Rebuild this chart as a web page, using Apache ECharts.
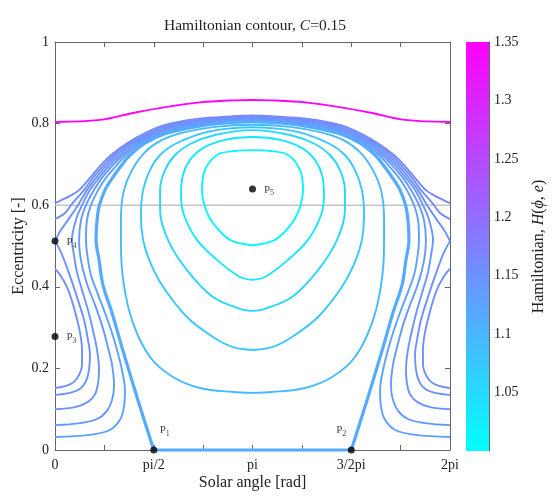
<!DOCTYPE html>
<html>
<head>
<meta charset="utf-8">
<script src="https://cdn.jsdelivr.net/npm/echarts@6/dist/echarts.min.js"></script>
<style>
  html, body { margin: 0; background: #fff; }
  #main { width: 558px; height: 497px; }
</style>
</head>
<body>
<div id="main"></div>
<script>
// x values are solar angle in units of pi, y values eccentricity
const xTicks = { 0: '0', 0.5: 'pi/2', 1: 'pi', 1.5: '3/2pi', 2: '2pi' };

// closed loops around P5
const loop1 = [[1.0,0.502],[0.886,0.515],[0.800,0.556],[0.759,0.596],[0.744,0.637],[0.759,0.686],[0.820,0.723],[0.911,0.733],[1.0,0.735],[1.089,0.733],[1.180,0.723],[1.241,0.686],[1.256,0.637],[1.241,0.596],[1.200,0.556],[1.114,0.515],[1.0,0.502]];
const loop2 = [[1.0,0.417],[0.937,0.424],[0.820,0.466],[0.719,0.515],[0.653,0.576],[0.638,0.625],[0.648,0.674],[0.684,0.711],[0.749,0.740],[0.861,0.760],[1.0,0.767],[1.139,0.760],[1.251,0.740],[1.316,0.711],[1.352,0.674],[1.362,0.625],[1.347,0.576],[1.281,0.515],[1.180,0.466],[1.063,0.424],[1.0,0.417]];
const loop3 = [[1.0,0.341],[0.937,0.346],[0.800,0.375],[0.668,0.441],[0.572,0.515],[0.532,0.588],[0.532,0.637],[0.557,0.686],[0.608,0.723],[0.684,0.750],[0.810,0.772],[1.0,0.784],[1.190,0.772],[1.316,0.750],[1.392,0.723],[1.443,0.686],[1.468,0.637],[1.468,0.588],[1.428,0.515],[1.332,0.441],[1.200,0.375],[1.063,0.346],[1.0,0.341]];
const loop4 = [[1.0,0.245],[0.901,0.252],[0.800,0.277],[0.668,0.326],[0.547,0.400],[0.481,0.461],[0.446,0.515],[0.435,0.576],[0.446,0.637],[0.481,0.686],[0.532,0.723],[0.608,0.750],[0.734,0.775],[0.861,0.787],[1.0,0.791],[1.139,0.787],[1.266,0.775],[1.392,0.750],[1.468,0.723],[1.519,0.686],[1.554,0.637],[1.565,0.576],[1.554,0.515],[1.519,0.461],[1.453,0.400],[1.332,0.326],[1.200,0.277],[1.099,0.252],[1.0,0.245]];
const loop5 = [[1.0,0.140],[0.901,0.142],[0.734,0.152],[0.597,0.179],[0.481,0.228],[0.395,0.311],[0.349,0.404],[0.334,0.502],[0.334,0.576],[0.349,0.637],[0.390,0.686],[0.456,0.730],[0.542,0.760],[0.658,0.779],[0.810,0.792],[1.0,0.797],[1.190,0.792],[1.342,0.779],[1.458,0.760],[1.544,0.730],[1.610,0.686],[1.651,0.637],[1.666,0.576],[1.666,0.502],[1.651,0.404],[1.605,0.311],[1.519,0.228],[1.403,0.179],[1.266,0.152],[1.099,0.142],[1.0,0.140]];

// separatrix from P1 over the top to P2, and the e=0 segment between them
const sepArc = [[0.5,0],[0.415,0.130],[0.339,0.252],[0.289,0.336],[0.243,0.404],[0.223,0.466],[0.208,0.515],[0.213,0.564],[0.225,0.600],[0.253,0.637],[0.291,0.667],[0.334,0.696],[0.380,0.723],[0.456,0.752],[0.557,0.775],[0.709,0.792],[0.846,0.801],[1.0,0.805],[1.154,0.801],[1.291,0.792],[1.443,0.775],[1.544,0.752],[1.620,0.723],[1.666,0.696],[1.709,0.667],[1.747,0.637],[1.775,0.600],[1.787,0.564],[1.792,0.515],[1.777,0.466],[1.757,0.404],[1.711,0.336],[1.661,0.252],[1.585,0.130],[1.5,0]];
const sepBase = [[0.5,0],[1.5,0]];

// open curves from the left edge over the top to the right edge
const curveE = [[0,0.032],[0.177,0.037],[0.278,0.049],[0.329,0.074],[0.349,0.105],[0.354,0.147],[0.339,0.196],[0.314,0.245],[0.284,0.294],[0.248,0.343],[0.213,0.387],[0.182,0.429],[0.167,0.466],[0.157,0.515],[0.162,0.564],[0.182,0.600],[0.218,0.637],[0.258,0.667],[0.309,0.696],[0.359,0.723],[0.435,0.752],[0.557,0.778],[0.709,0.795],[0.846,0.804],[1.0,0.808],[1.154,0.804],[1.291,0.795],[1.443,0.778],[1.565,0.752],[1.641,0.723],[1.691,0.696],[1.742,0.667],[1.782,0.637],[1.818,0.600],[1.838,0.564],[1.843,0.515],[1.833,0.466],[1.818,0.429],[1.787,0.387],[1.752,0.343],[1.716,0.294],[1.686,0.245],[1.661,0.196],[1.646,0.147],[1.651,0.105],[1.671,0.074],[1.722,0.049],[1.823,0.037],[2,0.032]];
const curveD = [[0,0.061],[0.127,0.066],[0.213,0.076],[0.263,0.096],[0.289,0.123],[0.299,0.159],[0.289,0.208],[0.268,0.252],[0.238,0.306],[0.203,0.355],[0.167,0.400],[0.142,0.441],[0.127,0.478],[0.122,0.515],[0.132,0.564],[0.157,0.600],[0.197,0.637],[0.238,0.667],[0.289,0.696],[0.344,0.723],[0.420,0.752],[0.557,0.782],[0.709,0.798],[0.846,0.806],[1.0,0.810],[1.154,0.806],[1.291,0.798],[1.443,0.782],[1.580,0.752],[1.656,0.723],[1.711,0.696],[1.762,0.667],[1.803,0.637],[1.843,0.600],[1.868,0.564],[1.878,0.515],[1.873,0.478],[1.858,0.441],[1.833,0.400],[1.797,0.355],[1.762,0.306],[1.732,0.252],[1.711,0.208],[1.701,0.159],[1.711,0.123],[1.737,0.096],[1.787,0.076],[1.873,0.066],[2,0.061]];
const curveC = [[0,0.100],[0.101,0.105],[0.167,0.118],[0.203,0.137],[0.218,0.164],[0.223,0.196],[0.213,0.245],[0.192,0.294],[0.167,0.343],[0.137,0.392],[0.111,0.436],[0.096,0.478],[0.086,0.515],[0.106,0.564],[0.137,0.600],[0.177,0.637],[0.223,0.667],[0.273,0.696],[0.329,0.723],[0.405,0.752],[0.557,0.786],[0.709,0.801],[0.846,0.809],[1.0,0.813],[1.154,0.809],[1.291,0.801],[1.443,0.786],[1.595,0.752],[1.671,0.723],[1.727,0.696],[1.777,0.667],[1.823,0.637],[1.863,0.600],[1.894,0.564],[1.914,0.515],[1.904,0.478],[1.889,0.436],[1.863,0.392],[1.833,0.343],[1.808,0.294],[1.787,0.245],[1.777,0.196],[1.782,0.164],[1.797,0.137],[1.833,0.118],[1.899,0.105],[2,0.100]];
const curveU3 = [[0,0.512],[0.030,0.539],[0.066,0.564],[0.116,0.600],[0.162,0.637],[0.208,0.667],[0.258,0.696],[0.314,0.723],[0.390,0.752],[0.557,0.789],[0.709,0.805],[0.846,0.811],[1.0,0.815],[1.154,0.811],[1.291,0.805],[1.443,0.789],[1.610,0.752],[1.686,0.723],[1.742,0.696],[1.792,0.667],[1.838,0.637],[1.884,0.600],[1.934,0.564],[1.970,0.539],[2,0.512]];
const curveU2 = [[0,0.566],[0.051,0.581],[0.081,0.600],[0.116,0.620],[0.147,0.637],[0.192,0.667],[0.243,0.696],[0.299,0.723],[0.375,0.752],[0.557,0.793],[0.709,0.808],[0.846,0.814],[1.0,0.817],[1.154,0.814],[1.291,0.808],[1.443,0.793],[1.625,0.752],[1.701,0.723],[1.757,0.696],[1.808,0.667],[1.853,0.637],[1.884,0.620],[1.919,0.600],[1.949,0.581],[2,0.566]];
const curveU1 = [[0,0.605],[0.035,0.613],[0.076,0.623],[0.122,0.637],[0.177,0.667],[0.228,0.696],[0.284,0.723],[0.365,0.752],[0.456,0.777],[0.557,0.797],[0.709,0.811],[0.846,0.816],[1.0,0.820],[1.154,0.816],[1.291,0.811],[1.443,0.797],[1.544,0.777],[1.635,0.752],[1.716,0.723],[1.772,0.696],[1.823,0.667],[1.878,0.637],[1.924,0.623],[1.965,0.613],[2,0.605]];

// half loops around P3 (left and right edges)
const curveBLeft = [[0,0.135],[0.076,0.140],[0.127,0.150],[0.157,0.169],[0.172,0.196],[0.177,0.233],[0.167,0.270],[0.147,0.319],[0.116,0.368],[0.086,0.412],[0.056,0.453],[0.030,0.485],[0,0.512]];
const curveBRight = [[2,0.135],[1.924,0.140],[1.873,0.150],[1.843,0.169],[1.828,0.196],[1.823,0.233],[1.833,0.270],[1.853,0.319],[1.884,0.368],[1.914,0.412],[1.944,0.453],[1.970,0.485],[2,0.512]];
const curveALeft = [[0,0.152],[0.056,0.157],[0.096,0.167],[0.122,0.184],[0.137,0.211],[0.137,0.245],[0.127,0.287],[0.106,0.331],[0.081,0.373],[0.056,0.404],[0.030,0.426],[0.010,0.439],[0,0.444]];
const curveARight = [[2,0.152],[1.944,0.157],[1.904,0.167],[1.878,0.184],[1.863,0.211],[1.863,0.245],[1.873,0.287],[1.894,0.331],[1.919,0.373],[1.944,0.404],[1.970,0.426],[1.990,0.439],[2,0.444]];

// top contour
const curveTop = [[0,0.804],[0.228,0.809],[0.395,0.826],[0.567,0.841],[0.734,0.852],[0.901,0.857],[1.0,0.858],[1.099,0.857],[1.266,0.852],[1.433,0.841],[1.605,0.826],[1.772,0.809],[2,0.804]];

// Hamiltonian level of each contour
const contourNames = ['loop1','loop2','loop3','loop4','loop5','sepArc','sepBase','curveE','curveD','curveC','curveU3','curveU2','curveU1','curveBLeft','curveBRight','curveALeft','curveARight','curveTop'];
const contourData = [loop1,loop2,loop3,loop4,loop5,sepArc,sepBase,curveE,curveD,curveC,curveU3,curveU2,curveU1,curveBLeft,curveBRight,curveALeft,curveARight,curveTop];
const contourLevels = [1.015,1.035,1.055,1.075,1.095,1.115,1.115,1.13,1.14,1.145,1.15,1.155,1.16,1.15,1.15,1.155,1.155,1.35];

const points = [[0.5,0],[1.5,0],[0,0.278],[0,0.512],[1.0,0.64]];
const pointNames = ['1','2','3','4','5'];

const colorMin = 1.0, colorMax = 1.35;

function cool(h) {
  const t = Math.max(0, Math.min(1, (h - colorMin) / (colorMax - colorMin)));
  return 'rgb(' + Math.round(255 * t) + ',' + Math.round(255 * (1 - t)) + ',255)';
}

const serif = 'Liberation Serif';
const chart = echarts.init(document.getElementById('main'));

const series = [];
series.push({
  type: 'line', data: [[0, 0.6], [2, 0.6]], symbol: 'none', silent: true,
  lineStyle: { color: '#c4c4c4', width: 1.5 }, z: 1
});
contourData.forEach(function (d, i) {
  const name = contourNames[i];
  const thick = name === 'sepArc' || name === 'sepBase';
  series.push({
    name: name, type: 'line', data: d, symbol: 'none', smooth: name === 'sepBase' ? false : 0.35,
    clip: false, silent: true, z: thick ? 3 : 2,
    lineStyle: { color: cool(contourLevels[i]), width: thick ? 3.2 : 1.9 }
  });
});
series.push({
  type: 'scatter', data: points.map(function (p, i) {
    const below = p[1] === 0;
    return {
      value: p,
      label: {
        show: true,
        formatter: '{p|P}{s|' + pointNames[i] + '}',
        position: below ? 'top' : 'right',
        offset: below ? (i === 0 ? [11, -4] : [-10, -4]) : [3, 1],
        rich: {
          p: { fontFamily: serif, fontSize: 11, color: '#111' },
          s: { fontFamily: serif, fontSize: 8, color: '#111', padding: [7, 0, 0, 0] }
        }
      }
    };
  }),
  symbolSize: 7, itemStyle: { color: '#000' }, z: 5, clip: false, silent: true
});
series.push({
  type: 'bar', xAxisIndex: 2, yAxisIndex: 2, stack: 'cb', data: [colorMin],
  barWidth: '100%', itemStyle: { color: 'rgba(0,0,0,0)' }, silent: true
});
series.push({
  type: 'bar', xAxisIndex: 2, yAxisIndex: 2, stack: 'cb', data: [colorMax - colorMin],
  barWidth: '100%', silent: true,
  itemStyle: {
    color: new echarts.graphic.LinearGradient(0, 0, 0, 1, [
      { offset: 0, color: cool(colorMax) }, { offset: 1, color: cool(colorMin) }
    ])
  }
});

const boxLine = { show: true, onZero: false, lineStyle: { color: '#666', width: 1 } };
const inTick = { show: true, inside: true, length: 5, lineStyle: { color: '#666' } };
const labelStyle = { fontFamily: serif, fontSize: 14, color: '#222' };
const nameStyle = { fontFamily: serif, fontSize: 16, color: '#222' };

chart.setOption({
  animation: false,
  backgroundColor: '#fff',
  title: {
    text: 'Hamiltonian contour, {i|C}=0.15', left: 159, top: 13,
    textStyle: {
      fontFamily: serif, fontSize: 15.5, fontWeight: 'normal', color: '#222',
      rich: { i: { fontFamily: serif, fontSize: 15.5, fontStyle: 'italic', color: '#222' } }
    }
  },
  grid: [
    { left: 55, right: 108, top: 42, bottom: 47, outerBoundsMode: 'none', containLabel: false },
    { left: 466, right: 69, top: 42, bottom: 46, outerBoundsMode: 'none', containLabel: false }
  ],
  xAxis: [
    {
      type: 'value', gridIndex: 0, min: 0, max: 2, interval: 0.25, position: 'bottom',
      axisLine: boxLine, axisTick: inTick, splitLine: { show: false },
      axisLabel: Object.assign({ margin: 8, formatter: function (v) { return xTicks[v] || ''; } }, labelStyle),
      name: 'Solar angle [rad]', nameLocation: 'middle', nameGap: 25, nameMoveOverlap: false,
      nameTextStyle: nameStyle
    },
    {
      type: 'value', gridIndex: 0, min: 0, max: 2, interval: 0.25, position: 'top',
      axisLine: boxLine, axisTick: inTick, splitLine: { show: false }, axisLabel: { show: false }
    },
    {
      type: 'category', gridIndex: 1, data: ['c'], show: false
    }
  ],
  yAxis: [
    {
      type: 'value', gridIndex: 0, min: 0, max: 1, interval: 0.2, position: 'left',
      axisLine: boxLine, axisTick: inTick, splitLine: { show: false },
      axisLabel: Object.assign({ margin: 6 }, labelStyle),
      name: 'Eccentricity [-]', nameLocation: 'middle', nameGap: 28, nameMoveOverlap: false,
      nameTextStyle: nameStyle
    },
    {
      type: 'value', gridIndex: 0, min: 0, max: 1, interval: 0.2, position: 'right',
      axisLine: boxLine, axisTick: inTick, splitLine: { show: false }, axisLabel: { show: false }
    },
    {
      type: 'value', gridIndex: 1, min: colorMin, max: colorMax, interval: 0.05, position: 'right',
      axisLine: boxLine, axisTick: inTick, splitLine: { show: false },
      axisLabel: Object.assign({ margin: 5, showMinLabel: false }, labelStyle),
      name: 'Hamiltonian, {i|H}({i|ϕ}, {i|e})', nameLocation: 'middle', nameGap: 42, nameRotate: 90,
      nameMoveOverlap: false,
      nameTextStyle: {
        fontFamily: serif, fontSize: 16, color: '#222',
        rich: { i: { fontFamily: serif, fontSize: 16, fontStyle: 'italic', color: '#222' } }
      }
    }
  ],
  series: series
});
</script>
</body>
</html>
